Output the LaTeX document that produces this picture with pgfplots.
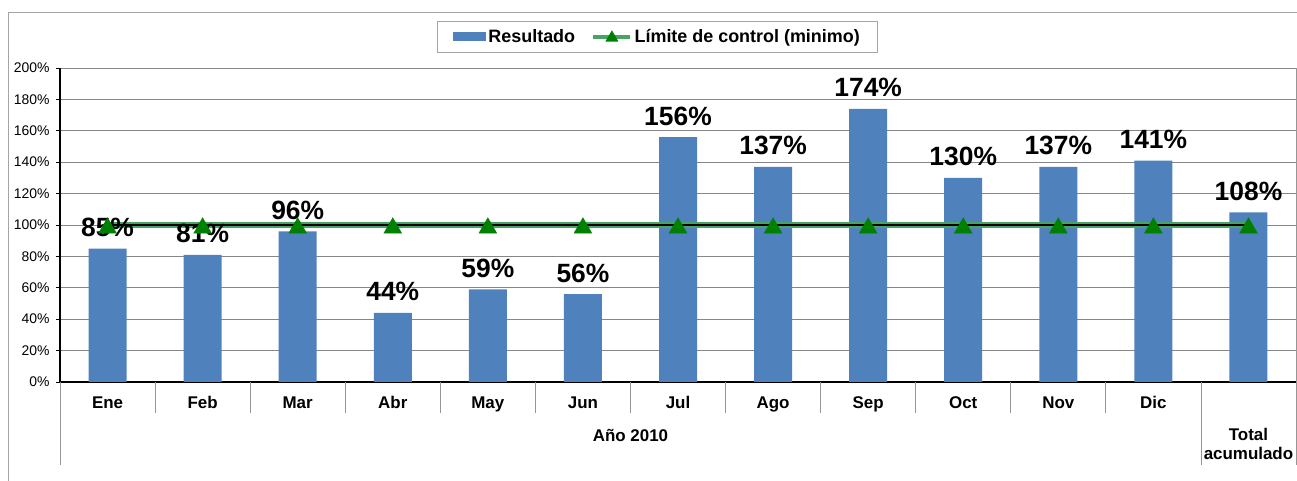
\documentclass[border=0pt]{standalone}
\usepackage{fontspec}
\setmainfont{Liberation Sans}
\usepackage{pgfplots}
\pgfplotsset{compat=1.18}
\definecolor{barblue}{RGB}{79,129,189}
\definecolor{linegreen}{RGB}{70,165,100}
\definecolor{markgreen}{RGB}{0,128,0}
\definecolor{gridgray}{RGB}{134,134,134}
\definecolor{framegray}{RGB}{165,165,165}
\definecolor{sepgray}{RGB}{150,150,150}
\begin{document}
\begin{tikzpicture}[x=1bp,y=1bp]
\useasboundingbox (0,0) rectangle (1297,481);
\draw[framegray, line width=1bp] (8.5,-5) -- (8.5,468.5) -- (1305,468.5);
\begin{axis}[
  at={(60bp,99bp)}, anchor=south west,
  scale only axis, width=1236bp, height=314bp,
  xmin=-0.5, xmax=12.5, ymin=0, ymax=200,
  clip=false,
  axis x line*=bottom, axis y line*=left,
  axis line style={black, line width=1.1bp},
  /pgf/number format/assume math mode=true,
  ytick={0,20,...,200},
  yticklabel={\pgfmathprintnumber{\tick}\%},
  yticklabel style={font=\fontsize{14}{16}\selectfont, xshift=-3bp},
  ymajorgrids, grid style={gridgray, line width=0.8bp},
  major tick length=4bp, tick align=outside,
  ytick style={black, line width=0.8bp},
  xtick={0,...,11},
  xticklabels={Ene,Feb,Mar,Abr,May,Jun,Jul,Ago,Sep,Oct,Nov,Dic},
  xtick style={draw=none},
  xticklabel style={font=\bfseries\fontsize{17}{20}\selectfont, anchor=base, yshift=-23bp},
  legend columns=2,
  legend style={at={(0.4835,1.0987)}, anchor=center, draw=framegray, line width=0.8bp,
    font=\bfseries\fontsize{18}{21}\selectfont,
    inner xsep=16bp, inner ysep=6bp,
    /tikz/every even column/.append style={column sep=14bp}},
]
\addplot[ybar, bar width=38bp, fill=barblue, draw=none,
  nodes near coords={\pgfmathprintnumber{\pgfplotspointmeta}\%},
  nodes near coords style={font=\bfseries\fontsize{26.5}{30}\selectfont, anchor=base, yshift=12bp, inner sep=0pt, black},
  legend image code/.code={\fill[barblue] (0bp,-4.5bp) rectangle (33bp,4.5bp);}]
coordinates {(0,85) (1,81) (2,96) (3,44) (4,59) (5,56) (6,156) (7,137) (8,174) (9,130) (10,137) (11,141) (12,108)};
\addlegendentry{Resultado}
\addplot[linegreen, line width=5.5bp, forget plot]
coordinates {(0,100) (1,100) (2,100) (3,100) (4,100) (5,100) (6,100) (7,100) (8,100) (9,100) (10,100) (11,100) (12,100)};
\addplot[black, line width=1.2bp, mark=triangle*, mark size=10.5bp,
  mark options={fill=markgreen, draw=markgreen, line width=0.1bp, yshift=-3bp},
  legend image code/.code={\draw[linegreen, line width=4.5bp] (0bp,0bp) -- (37bp,0bp);
    \fill[markgreen] (13bp,-4bp) -- (24bp,-4bp) -- (18.5bp,5.5bp) -- cycle;}]
coordinates {(0,100) (1,100) (2,100) (3,100) (4,100) (5,100) (6,100) (7,100) (8,100) (9,100) (10,100) (11,100) (12,100)};
\addlegendentry{Límite de control (minimo)}
% category separators
\pgfplotsinvokeforeach{0.5,1.5,2.5,3.5,4.5,5.5,6.5,7.5,8.5,9.5,10.5}{
  \draw[sepgray, line width=0.8bp] (axis cs:#1,0) -- ++(0bp,-31bp);
}
\draw[sepgray, line width=0.8bp] (axis cs:-0.5,0) -- ++(0bp,-83bp);
\draw[sepgray, line width=0.8bp] (axis cs:11.5,0) -- ++(0bp,-83bp);
\draw[sepgray, line width=0.8bp] (axis cs:12.5,200) -- (axis cs:12.5,0) -- ++(0bp,-83bp);
\node[font=\bfseries\fontsize{17}{20}\selectfont, anchor=base] at (axis cs:5.5,0) [yshift=-60bp] {Año 2010};
\node[font=\bfseries\fontsize{17}{20}\selectfont, anchor=base] at (axis cs:12,0) [yshift=-59bp] {Total};
\node[font=\bfseries\fontsize{17}{20}\selectfont, anchor=base] at (axis cs:12,0) [yshift=-78bp] {acumulado};
\end{axis}
\end{tikzpicture}
\end{document}
